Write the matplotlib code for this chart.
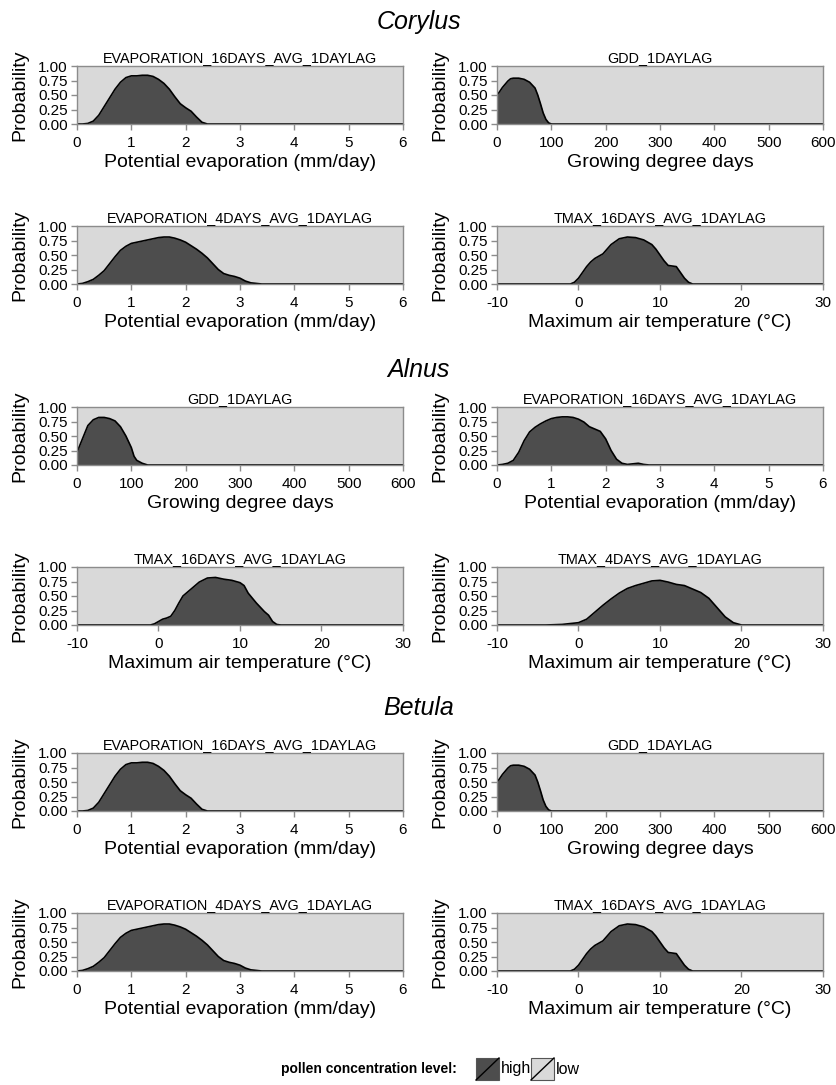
import numpy as np
import matplotlib.pyplot as plt
from matplotlib.patches import Rectangle
from matplotlib.lines import Line2D

plt.rcParams['font.family'] = ['Liberation Sans', 'DejaVu Sans']
plt.rcParams['axes.unicode_minus'] = False

HIGH = '#4d4d4d'
LOW = '#d9d9d9'
FRAME = '#8c8c8c'

# Corylus / Betula: P(high) along potential evaporation, 16 day average
evap16_x = [0, 0.1, 0.2, 0.3, 0.4, 0.5, 0.6, 0.7, 0.8, 0.9, 1.0, 1.1, 1.2, 1.3, 1.4,
            1.5, 1.6, 1.7, 1.8, 1.9, 2.0, 2.1, 2.2, 2.3, 2.4, 6]
evap16_y = [0, 0.0, 0.01, 0.05, 0.15, 0.3, 0.45, 0.6, 0.72, 0.8, 0.83, 0.83, 0.84, 0.84, 0.82,
            0.77, 0.7, 0.6, 0.47, 0.35, 0.28, 0.22, 0.12, 0.03, 0.0, 0]

# Corylus / Betula: growing degree days
gdd_x = [0, 5, 10, 20, 25, 30, 40, 50, 60, 70, 75, 80, 85, 90, 95, 100, 600]
gdd_y = [0.5, 0.56, 0.63, 0.74, 0.78, 0.79, 0.79, 0.77, 0.72, 0.62, 0.5, 0.35, 0.19, 0.08, 0.02, 0.0, 0]

# Corylus / Betula: potential evaporation, 4 day average
evap4_x = [0, 0.1, 0.2, 0.3, 0.4, 0.5, 0.6, 0.7, 0.8, 0.9, 1.0, 1.1, 1.2, 1.3, 1.4, 1.5, 1.6,
           1.7, 1.8, 1.9, 2.0, 2.1, 2.2, 2.3, 2.4, 2.5, 2.6, 2.7, 2.8, 2.9, 3.0, 3.1, 3.2, 3.3, 3.4, 6]
evap4_y = [0, 0.01, 0.04, 0.08, 0.15, 0.23, 0.35, 0.47, 0.58, 0.65, 0.70, 0.72, 0.74, 0.76, 0.78,
           0.80, 0.81, 0.81, 0.79, 0.76, 0.72, 0.66, 0.6, 0.53, 0.45, 0.35, 0.25, 0.18, 0.15,
           0.13, 0.10, 0.05, 0.02, 0.01, 0.0, 0]

# Corylus / Betula: maximum air temperature, 16 day average
tmax16_x = [-10, -1.0, -0.5, 0, 0.5, 1, 1.5, 2, 3, 3.5, 4, 5, 6, 7, 8, 9, 9.5, 10, 10.5,
            11, 11.5, 12, 12.5, 13, 13.5, 14, 30]
tmax16_y = [0, 0, 0.03, 0.1, 0.2, 0.3, 0.38, 0.44, 0.52, 0.6, 0.68, 0.78, 0.81, 0.8, 0.76,
            0.68, 0.6, 0.5, 0.4, 0.32, 0.31, 0.3, 0.2, 0.1, 0.03, 0.0, 0]

# Alnus: growing degree days
alnus_gdd_x = [0, 10, 20, 30, 40, 50, 60, 70, 80, 90, 100, 105, 110, 120, 130, 600]
alnus_gdd_y = [0.22, 0.45, 0.68, 0.78, 0.82, 0.82, 0.8, 0.76, 0.66, 0.5, 0.3, 0.15, 0.08, 0.03, 0.0, 0]

# Alnus: potential evaporation, 16 day average
alnus_evap16_x = [0, 0.1, 0.2, 0.3, 0.4, 0.5, 0.6, 0.7, 0.8, 0.9, 1.0, 1.1, 1.2, 1.3, 1.4, 1.5,
                  1.6, 1.7, 1.8, 1.9, 2.0, 2.1, 2.2, 2.3, 2.4, 2.5, 2.6, 2.7, 2.8, 6]
alnus_evap16_y = [0, 0.01, 0.03, 0.08, 0.22, 0.42, 0.57, 0.65, 0.71, 0.76, 0.8, 0.82, 0.83, 0.83,
                  0.82, 0.79, 0.74, 0.66, 0.62, 0.58, 0.45, 0.25, 0.1, 0.03, 0.01, 0.02, 0.03,
                  0.01, 0.0, 0]

# Alnus: maximum air temperature, 16 day average
alnus_tmax16_x = [-10, -1, -0.5, 0, 0.5, 1, 1.5, 2, 2.5, 3, 4, 5, 6, 7, 8, 9, 10, 10.5, 11,
                  12, 13, 13.5, 14, 14.5, 15, 30]
alnus_tmax16_y = [0, 0, 0.02, 0.06, 0.1, 0.12, 0.15, 0.25, 0.38, 0.5, 0.62, 0.74, 0.81, 0.82,
                  0.79, 0.77, 0.73, 0.68, 0.55, 0.38, 0.23, 0.17, 0.06, 0.01, 0.0, 0]

# Alnus: maximum air temperature, 4 day average
alnus_tmax4_x = [-10, -4, -2, 0, 1, 2, 3, 4, 5, 6, 7, 8, 9, 10, 11, 12, 13, 14, 15, 16, 17,
                 18, 19, 20, 30]
alnus_tmax4_y = [0, 0, 0.01, 0.04, 0.1, 0.22, 0.34, 0.45, 0.55, 0.63, 0.68, 0.72, 0.76, 0.77,
                 0.74, 0.7, 0.68, 0.62, 0.56, 0.46, 0.3, 0.14, 0.04, 0.0, 0]

# Betula panels show the same curves as Corylus
betula_evap16_x, betula_evap16_y = evap16_x, evap16_y
betula_gdd_x, betula_gdd_y = gdd_x, gdd_y
betula_evap4_x, betula_evap4_y = evap4_x, evap4_y
betula_tmax16_x, betula_tmax16_y = tmax16_x, tmax16_y

groups = ['Corylus', 'Alnus', 'Betula']
ytick_vals = [0, 0.25, 0.5, 0.75, 1.0]
ytick_labels = ['0.00', '0.25', '0.50', '0.75', '1.00']

axis_kinds = {
    'evap': ((0, 6), [0, 1, 2, 3, 4, 5, 6], 'Potential evaporation (mm/day)'),
    'gdd': ((0, 600), [0, 100, 200, 300, 400, 500, 600], 'Growing degree days'),
    'tmax': ((-10, 30), [-10, 0, 10, 20, 30], 'Maximum air temperature (°C)'),
}

# (title, kind, x, y) per panel, row by row
panels = [
    [('EVAPORATION_16DAYS_AVG_1DAYLAG', 'evap', evap16_x, evap16_y),
     ('GDD_1DAYLAG', 'gdd', gdd_x, gdd_y)],
    [('EVAPORATION_4DAYS_AVG_1DAYLAG', 'evap', evap4_x, evap4_y),
     ('TMAX_16DAYS_AVG_1DAYLAG', 'tmax', tmax16_x, tmax16_y)],
    [('GDD_1DAYLAG', 'gdd', alnus_gdd_x, alnus_gdd_y),
     ('EVAPORATION_16DAYS_AVG_1DAYLAG', 'evap', alnus_evap16_x, alnus_evap16_y)],
    [('TMAX_16DAYS_AVG_1DAYLAG', 'tmax', alnus_tmax16_x, alnus_tmax16_y),
     ('TMAX_4DAYS_AVG_1DAYLAG', 'tmax', alnus_tmax4_x, alnus_tmax4_y)],
    [('EVAPORATION_16DAYS_AVG_1DAYLAG', 'evap', betula_evap16_x, betula_evap16_y),
     ('GDD_1DAYLAG', 'gdd', betula_gdd_x, betula_gdd_y)],
    [('EVAPORATION_4DAYS_AVG_1DAYLAG', 'evap', betula_evap4_x, betula_evap4_y),
     ('TMAX_16DAYS_AVG_1DAYLAG', 'tmax', betula_tmax16_x, betula_tmax16_y)],
]

W, H = 837, 1085
fig = plt.figure(figsize=(W / 100, H / 100), dpi=100)

col_left = [77, 497]
ax_w, ax_h = 326, 58
row_tops = [66, 226, 407, 567, 753, 913]
group_y = [22, 370, 708]


def px_axes(left, top):
    return fig.add_axes([left / W, 1 - (top + ax_h) / H, ax_w / W, ax_h / H])


for r, row in enumerate(panels):
    for c, (title, kind, x, y) in enumerate(row):
        ax = px_axes(col_left[c], row_tops[r])
        xlim, xticks, xlabel = axis_kinds[kind]
        ax.set_facecolor(LOW)
        ax.fill_between(x, 0, y, color=HIGH, lw=0)
        ax.plot(x, y, color='black', lw=1.2)
        ax.set_xlim(*xlim)
        ax.set_ylim(0, 1)
        ax.set_xticks(xticks)
        ax.set_xticklabels([str(v) for v in xticks])
        ax.set_yticks(ytick_vals)
        ax.set_yticklabels(ytick_labels)
        for s in ax.spines.values():
            s.set_color(FRAME)
            s.set_linewidth(1)
        ax.tick_params(direction='out', length=4.5, width=1, color=FRAME,
                       labelsize=11, pad=2)
        ax.tick_params(axis='x', pad=4)
        ax.set_title(title, fontsize=10.4, pad=3)
        ax.set_xlabel(xlabel, fontsize=14, labelpad=3)
        ax.set_ylabel('Probability', fontsize=14)
        ax.yaxis.set_label_coords(-0.15, 0.5)

for name, gy in zip(groups, group_y):
    fig.text(0.5, 1 - gy / H, name, ha='center', va='center',
             fontsize=18, style='italic')

# legend at the bottom
leg_y = 1069
fig.text(457 / W, 1 - leg_y / H, 'pollen concentration level:', ha='right',
         va='center', fontsize=10, weight='bold')
box_w, box_h = 23, 22
for bx, col, lab in [(476, HIGH, 'high'), (531, LOW, 'low')]:
    x0 = bx / W
    y0 = 1 - (leg_y + box_h / 2) / H
    fig.patches.append(Rectangle((x0, y0), box_w / W, box_h / H, facecolor=col,
                                 edgecolor='#555555', lw=0.8,
                                 transform=fig.transFigure))
    fig.lines.append(Line2D([x0, x0 + box_w / W], [y0, y0 + box_h / H],
                            color='black', lw=1, transform=fig.transFigure))
    fig.text((bx + box_w + 2) / W, 1 - leg_y / H, lab, ha='left', va='center',
             fontsize=11.5)

fig.savefig('out.png', dpi=100)
